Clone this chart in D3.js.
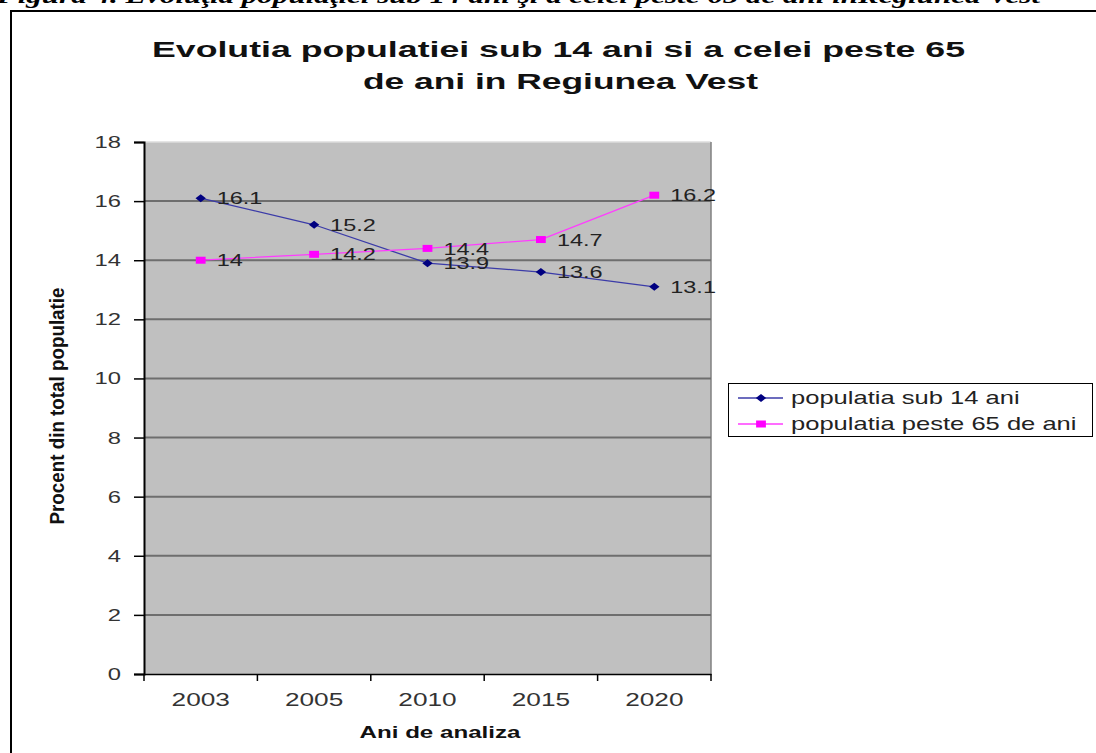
<!DOCTYPE html>
<html>
<head>
<meta charset="utf-8">
<script src="https://cdn.jsdelivr.net/npm/d3@7"></script>
<style>
  body { margin: 0; background: #fff; }
  svg { display: block; }
</style>
</head>
<body>
<div id="chart"></div>
<script>
const years = ['2003', '2005', '2010', '2015', '2020']
const sub14 = [16.1, 15.2, 13.9, 13.6, 13.1]
const peste65 = [14, 14.2, 14.4, 14.7, 16.2]
const series_names = ['populatia sub 14 ani', 'populatia peste 65 de ani']
const y_ticks = [0, 2, 4, 6, 8, 10, 12, 14, 16, 18]

const width = 1096,
      height = 753,
      plot = {left: 144, right: 711, top: 142, bottom: 674},
      sans = 'Liberation Sans, Arial, sans-serif',
      stretch = 1.4   // the picture is wider than tall, glyphs included

// rectangle and diamond markers a little wider than high, like the picture
const wide_square = {
  draw(ctx, size) {
    const h = Math.sqrt(size) / 2, w = h * 1.4
    ctx.moveTo(-w, -h); ctx.lineTo(w, -h); ctx.lineTo(w, h); ctx.lineTo(-w, h); ctx.closePath()
  }
}
const wide_diamond = {
  draw(ctx, size) {
    const h = Math.sqrt(size) / 2, w = h * 1.3
    ctx.moveTo(0, -h); ctx.lineTo(w, 0); ctx.lineTo(0, h); ctx.lineTo(-w, 0); ctx.closePath()
  }
}

function stretched_text(parent, x, y, str, opts = {}) {
  return parent.append('text')
    .attr('transform', `translate(${x},${y}) scale(${opts.sx || stretch},1)`)
    .attr('text-anchor', opts.anchor || 'start')
    .attr('dy', opts.dy || null)
    .style('font-family', opts.family || sans)
    .style('font-weight', opts.weight || 'normal')
    .style('font-style', opts.style || 'normal')
    .style('font-size', opts.size || '17px')
    .style('fill', opts.fill || '#222')
    .text(str)
}

const svg = d3.select('#chart')
  .append('svg')
  .attr('width', width)
  .attr('height', height)

// caption from the document, cut by the top of the page
svg.append('text')
  .attr('x', -3)
  .attr('y', 3)
  .attr('textLength', 1043)
  .attr('lengthAdjust', 'spacingAndGlyphs')
  .style('font-family', 'Liberation Serif, Times New Roman, serif')
  .style('font-weight', 'bold')
  .style('font-style', 'italic')
  .style('font-size', '21px')
  .text('Figura 4. Evoluţia populaţiei sub 14 ani şi a celei peste 65 de ani înRegiunea Vest')

// chart frame
svg.append('line')
  .attr('x1', 10).attr('x2', width)
  .attr('y1', 11).attr('y2', 11)
  .style('stroke', '#000').style('stroke-width', 2)
svg.append('line')
  .attr('x1', 11).attr('x2', 11)
  .attr('y1', 10).attr('y2', height)
  .style('stroke', '#000').style('stroke-width', 2)

const title_lines = [
  {text: 'Evolutia populatiei sub 14 ani si a celei peste 65', x: 152, y: 57, len: 813},
  {text: 'de ani in Regiunea Vest', x: 363, y: 89, len: 395}
]
for (const t of title_lines) {
  svg.append('text')
    .attr('x', t.x).attr('y', t.y)
    .attr('textLength', t.len)
    .attr('lengthAdjust', 'spacingAndGlyphs')
    .style('font-family', sans)
    .style('font-weight', 'bold')
    .style('font-size', '22px')
    .style('fill', '#111')
    .text(t.text)
}

const x = d3.scaleBand()
  .domain(years)
  .range([plot.left, plot.right])

const y = d3.scaleLinear()
  .domain([0, 18])
  .range([plot.bottom, plot.top])

// plot area
svg.append('rect')
  .attr('x', plot.left).attr('y', plot.top)
  .attr('width', plot.right - plot.left)
  .attr('height', plot.bottom - plot.top)
  .style('fill', '#C0C0C0')
svg.append('line')
  .attr('x1', plot.left).attr('x2', plot.right)
  .attr('y1', plot.top).attr('y2', plot.top)
  .style('stroke', '#dcdcdc').style('stroke-width', 1.5)
svg.append('line')
  .attr('x1', plot.right).attr('x2', plot.right)
  .attr('y1', plot.top).attr('y2', plot.bottom)
  .style('stroke', '#808080').style('stroke-width', 1.5)

// gridlines
svg.append('g')
  .selectAll('line')
  .data(y_ticks.filter(d => d > 0 && d < 18))
  .join('line')
  .attr('x1', plot.left).attr('x2', plot.right)
  .attr('y1', d => y(d)).attr('y2', d => y(d))
  .style('stroke', '#6e6e6e')
  .style('stroke-width', 2)

// y axis
const y_axis = svg.append('g')
  .attr('transform', `translate(${plot.left},0)`)
  .call(d3.axisLeft(y).tickValues(y_ticks).tickSize(10))
y_axis.select('.domain').style('stroke', '#000').style('stroke-width', 2)
y_axis.selectAll('.tick line').style('stroke', '#000').style('stroke-width', 1.5)
y_axis.selectAll('.tick text')
  .attr('x', -23 / stretch)
  .attr('transform', `scale(${stretch},1)`)
  .style('font-family', sans).style('font-size', '17px').style('fill', '#333')

// x axis, ticks between categories
const x_axis = svg.append('g')
  .attr('transform', `translate(0,${plot.bottom})`)
  .call(d3.axisBottom(x).tickSize(0))
x_axis.select('.domain').style('stroke', '#000').style('stroke-width', 1.5)
x_axis.selectAll('.tick text')
  .attr('y', 32).attr('dy', null)
  .attr('transform', 'scale(1.38,1)')
  .style('font-family', sans).style('font-size', '19px').style('fill', '#333')
x_axis.selectAll('.boundary')
  .data(years.map(d => x(d)).concat([plot.right]))
  .join('line')
  .attr('class', 'boundary')
  .attr('x1', d => d).attr('x2', d => d)
  .attr('y1', 0).attr('y2', 7)
  .style('stroke', '#000').style('stroke-width', 1.5)

stretched_text(svg, 440, 738, 'Ani de analiza',
  {anchor: 'middle', weight: 'bold', size: '17px', sx: 1.42, fill: '#111'})

svg.append('text')
  .attr('transform', 'translate(64,406) rotate(-90) scale(1,1.4)')
  .attr('text-anchor', 'middle')
  .attr('textLength', 237)
  .attr('lengthAdjust', 'spacingAndGlyphs')
  .style('font-family', sans)
  .style('font-weight', 'bold')
  .style('font-size', '14px')
  .style('fill', '#111')
  .text('Procent din total populatie')

const cx = d => x(d) + x.bandwidth() / 2
const line = d3.line()
  .x((d, i) => cx(years[i]))
  .y(d => y(d))

const series = [
  {name: series_names[0], values: sub14, stroke: '#3b3ba8', marker: '#000080', shape: wide_diamond, size: 64},
  {name: series_names[1], values: peste65, stroke: '#FF3CFF', marker: '#FF00FF', shape: wide_square, size: 49}
]

for (const s of series) {
  const g = svg.append('g')
  g.append('path')
    .attr('d', line(s.values))
    .style('fill', 'none')
    .style('stroke', s.stroke)
    .style('stroke-width', 1.3)
  g.selectAll('path.marker')
    .data(s.values)
    .join('path')
    .attr('class', 'marker')
    .attr('transform', (d, i) => `translate(${cx(years[i])},${y(d)})`)
    .attr('d', d3.symbol().type(s.shape).size(s.size))
    .style('fill', s.marker)
  s.values.forEach((d, i) => {
    stretched_text(g, cx(years[i]) + 16, y(d), d, {dy: '0.36em', size: '17px', sx: 1.38, fill: '#222'})
  })
}

// legend
const legend = svg.append('g')
legend.append('rect')
  .attr('x', 728.5).attr('y', 383.5)
  .attr('width', 364).attr('height', 53)
  .style('fill', '#fff').style('stroke', '#000').style('stroke-width', 1)
series.forEach((s, i) => {
  const ly = 398 + i * 26
  legend.append('line')
    .attr('x1', 738).attr('x2', 783)
    .attr('y1', ly).attr('y2', ly)
    .style('stroke', s.stroke).style('stroke-width', 1.3)
  legend.append('path')
    .attr('transform', `translate(761,${ly})`)
    .attr('d', d3.symbol().type(s.shape).size(s.size))
    .style('fill', s.marker)
  stretched_text(legend, 791, ly, s.name, {dy: '0.36em', size: '18px', sx: 1.42, fill: '#222'})
})
</script>
</body>
</html>
